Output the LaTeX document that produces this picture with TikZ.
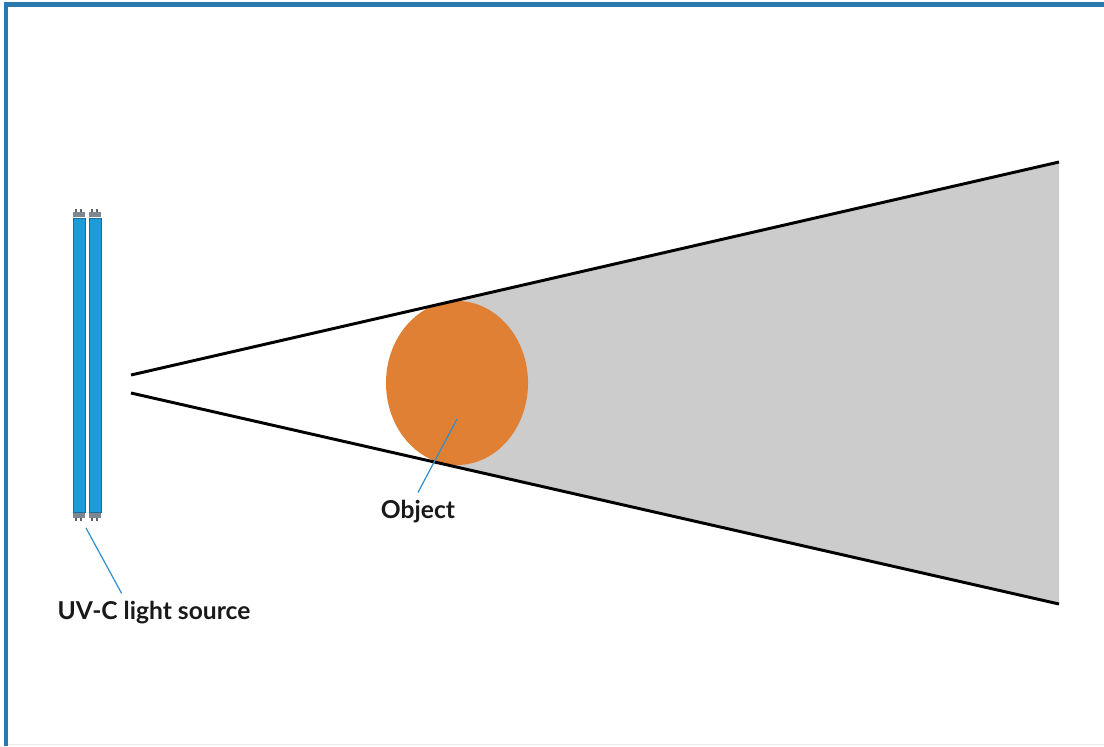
\documentclass[tikz,border=0pt]{standalone}
\usepackage{fontspec}
\setmainfont{Lato}
\usetikzlibrary{shapes.geometric}

\definecolor{edgeblue}{HTML}{2A78AC}
\definecolor{tubeblue}{HTML}{1B9BD8}
\definecolor{tubeedge}{HTML}{1F6B9E}
\definecolor{capgray}{HTML}{7E8790}
\definecolor{pingray}{HTML}{5E6368}
\definecolor{zonegray}{HTML}{CCCCCC}
\definecolor{objorange}{HTML}{E08035}
\definecolor{leaderblue}{HTML}{2C8FCB}

\begin{document}
\begin{tikzpicture}[
  x=0.025cm, y=-0.025cm,
  font=\fontsize{17.5}{21}\selectfont\bfseries,
  edgebar/.style  = {fill=edgeblue},
  tube/.style     = {draw=tubeedge, line width=0.6pt, fill=tubeblue, rectangle,
                     minimum width=0.3cm, minimum height=7.35cm, inner sep=0pt},
  endcap/.style   = {fill=capgray, rectangle, minimum width=0.3cm,
                     minimum height=0.125cm, inner sep=0pt},
  lamppin/.style  = {fill=pingray},
  litzone/.style  = {fill=zonegray},
  beam/.style     = {draw=black, line width=2.1pt},
  object/.style   = {ellipse, fill=objorange, minimum width=3.55cm,
                     minimum height=4.1cm, inner sep=0pt},
  leader/.style   = {draw=leaderblue, line width=0.85pt},
  callout/.style  = {anchor=base, inner sep=5pt, text=black!90},
]
\useasboundingbox (0,0) rectangle (1104,746);

% --- frame (top and left bars) ------------------------------------------
\fill[edgebar] (4,2) rectangle (1104,7);
\fill[edgebar] (4,2) rectangle (8,746);
\draw[black!7, line width=0.5pt] (8,744.5) -- (1104,744.5);

% --- lamp: two tubes with end caps ----------------------------------------
\node[tube] (tubeL) at (79,365) {};
\node[tube] (tubeR) at (95,365) {};
\node[endcap, anchor=south] (capLtop) at (tubeL.north) {};
\node[endcap, anchor=south] (capRtop) at (tubeR.north) {};
\node[endcap, anchor=north] (capLbot) at (tubeL.south) {};
\node[endcap, anchor=north] (capRbot) at (tubeR.south) {};
\foreach \c in {capLtop,capRtop} {
  \fill[lamppin] ([xshift=-0.09cm]\c.north) rectangle ++(1.5,-3);
  \fill[lamppin] ([xshift=0.03cm]\c.north) rectangle ++(1.5,-3);
}
\foreach \c in {capLbot,capRbot} {
  \fill[lamppin] ([xshift=-0.09cm]\c.south) rectangle ++(1.5,3);
  \fill[lamppin] ([xshift=0.03cm]\c.south) rectangle ++(1.5,3);
}

% --- light cone ---------------------------------------------------------
\coordinate (apexU) at (131,375);
\coordinate (farU)  at (1059,162);
\coordinate (apexL) at (131,393);
\coordinate (farL)  at (1059,604);
\path (apexU) -- (farU) coordinate[pos=0.345] (tanU);
\path (apexL) -- (farL) coordinate[pos=0.345] (tanL);

\fill[litzone] (tanU) -- (farU) -- (farL) -- (tanL) -- cycle;

\node[object] (obj) at (457,383) {};

\draw[beam] (apexU) -- (farU);
\draw[beam] (apexL) -- (farL);

% --- labels -------------------------------------------------------------
\node[callout] (objlabel) at (418,518) {Object};
\coordinate (objdot) at (457,419);
\draw[leader] (objdot) -- (objlabel.north);

\node[callout] (uvlabel) at (154,619) {UV-C light source};
\coordinate (lampfoot) at (86,528);
\draw[leader] (lampfoot) -- (uvlabel.150);

\end{tikzpicture}
\end{document}
